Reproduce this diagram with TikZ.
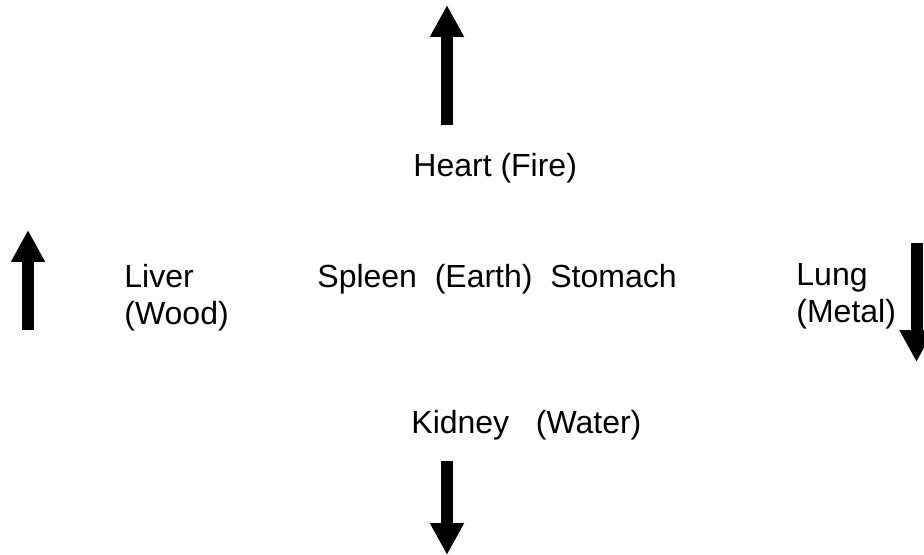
\documentclass[tikz,border=0pt]{standalone}
\usepackage{fontspec}
\setmainfont{Liberation Sans}
\usetikzlibrary{arrows.meta}
\begin{document}
\begin{tikzpicture}[x=0.5pt,y=-0.5pt,
  lbl/.style={anchor=base west,inner sep=0pt,font=\fontsize{16pt}{18.5pt}\selectfont,align=left},
  bigarrow/.style={line width=6pt,line cap=butt,-{Triangle[length=16pt,width=16pt]}}]
\useasboundingbox (0,0) rectangle (924,555);
% text (base anchor of a two-line node is its last line)
\node[lbl] (heart) at (413,177) {Heart (Fire)};
\node[lbl] (liver) at (124,324) {Liver\\(Wood)};
\node[lbl] (spleen) at (317,287) {Spleen\ \ (Earth)\ \ Stomach};
\node[lbl] (lung) at (796,322) {Lung\\(Metal)};
\node[lbl] (kidney) at (411,433) {Kidney\ \ \ (Water)};
% arrows
\coordinate (t1) at (447,125); \coordinate (t2) at (447,5);
\coordinate (l1) at (28,330);  \coordinate (l2) at (28,230);
\coordinate (r1) at (916.5,243); \coordinate (r2) at (916.5,362);
\coordinate (b1) at (447,461); \coordinate (b2) at (447,555);
\draw[bigarrow] (t1) -- (t2);
\draw[bigarrow] (l1) -- (l2);
\draw[bigarrow] (r1) -- (r2);
\draw[bigarrow] (b1) -- (b2);
\end{tikzpicture}
\end{document}
